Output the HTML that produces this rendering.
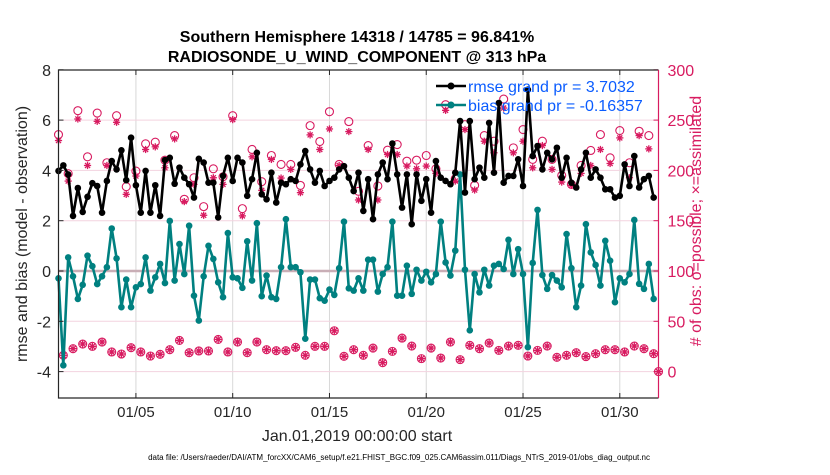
<!DOCTYPE html>
<html><head><meta charset="utf-8"><style>
body{margin:0;background:#fff;}
svg text{font-family:"Liberation Sans",Arial,sans-serif;}
</style></head><body>
<svg id="chart" width="830" height="470" viewBox="0 0 830 470" xmlns="http://www.w3.org/2000/svg">
<rect width="830" height="470" fill="#fff"/>
<g id="grid"></g>
<g id="marks"></g>
<g id="axes"></g>
<text x="357" y="42" text-anchor="middle" font-size="16" font-weight="bold">Southern Hemisphere 14318 / 14785 = 96.841%</text>
<text x="357" y="62" text-anchor="middle" font-size="16" font-weight="bold">RADIOSONDE_U_WIND_COMPONENT @ 313 hPa</text>
<text x="357" y="441" text-anchor="middle" font-size="16" fill="#262626">Jan.01,2019 00:00:00 start</text>
<text transform="translate(27,234) rotate(-90)" text-anchor="middle" font-size="16" fill="#262626">rmse and bias (model - observation)</text>
<text transform="translate(701,221) rotate(-90)" text-anchor="middle" font-size="16" fill="#d81b60"># of obs: o=possible; ×=assimilated</text>
<text x="399" y="460" text-anchor="middle" font-size="8" fill="#000">data file: /Users/raeder/DAI/ATM_forcXX/CAM6_setup/f.e21.FHIST_BGC.f09_025.CAM6assim.011/Diags_NTrS_2019-01/obs_diag_output.nc</text>
<g>
<g>
<line x1="436" y1="86" x2="466" y2="86" stroke="#000" stroke-width="2.5"/>
<circle cx="451" cy="86" r="3.5" fill="#000"/>
<text x="468" y="92" font-size="16" fill="#0a5cff">rmse grand pr = 3.7032</text>
</g>
<g>
<line x1="436" y1="105" x2="466" y2="105" stroke="#008080" stroke-width="2.5"/>
<circle cx="451" cy="105" r="3.5" fill="#008080"/>
<text x="468" y="111" font-size="16" fill="#0a5cff">bias grand pr = -0.16357</text>
</g>
</g>
</svg>
<script>
const rmse=[3.98,4.2,3.84,2.19,3.3,2.35,2.95,3.49,3.38,2.32,3.58,4.37,4.04,4.8,3.61,5.3,3.41,2.32,3.98,2.32,3.41,2.19,4.41,4.5,3.47,4.11,3.71,3.45,2.92,4.46,4.31,3.51,
3.51,2.13,3.78,4.5,3.58,4.5,4.31,2.99,3.65,4.7,3.05,2.85,3.91,2.72,3.51,3.45,3.65,3.58,4.24,4.77,4.04,3.51,3.98,3.38,3.58,3.71,4.04,4.17,3.71,3.18,
3.91,2.39,3.65,2.06,3.84,4.31,3.65,5.07,3.84,2.52,3.84,1.86,3.84,2.79,3.65,2.32,4.37,3.71,3.58,3.45,3.91,5.96,3.12,5.96,3.65,4.11,3.71,5.89,3.91,6.68,3.51,3.78,
3.78,4.44,3.38,7.21,4.57,4.97,4.04,4.7,4.44,4.9,3.71,4.5,3.51,3.32,4.04,4.7,3.71,4.04,3.71,3.25,3.25,2.92,2.99,4.24,3.38,4.57,3.32,3.65,3.78,2.92];
const bias=[-0.29,-3.75,0.54,-0.21,-1.11,-0.55,0.61,0.19,-0.52,-0.21,0.15,1.69,0.5,-1.44,-0.34,-1.44,-0.65,-0.52,0.54,-0.78,-0.25,0.28,-0.48,1.99,-0.38,1.07,-0.12,1.8,-0.98,-1.97,-0.21,1.0,
0.48,-0.45,-1.04,1.51,-0.25,-0.29,-0.67,1.18,-0.38,1.9,-1.0,-0.18,-1.04,-1.11,0.15,2.06,0.15,0.15,-0.05,-2.69,-0.34,-0.34,-1.08,-1.18,-0.74,-0.95,0.11,1.96,-0.69,-0.78,
-0.29,-0.78,0.45,0.45,-0.82,-0.12,0.15,1.96,-0.98,-0.98,0.21,-0.91,0.05,-0.38,-0.03,-0.45,-0.12,1.96,0.34,-0.18,0.81,3.84,0.05,-2.36,-0.12,-0.85,0.05,-0.58,0.21,0.28,0.08,1.24,
-0.12,0.87,-0.12,-3.03,0.32,2.43,-0.16,-0.71,-0.16,-0.38,-0.65,1.47,0.11,-1.44,-0.58,1.86,0.74,0.24,-0.58,1.2,0.41,-1.24,-0.29,-0.45,-0.12,2.03,-0.51,-0.71,0.28,-1.11];
const possible=[235.6,16.2,196.7,22.8,259.4,27.4,213.5,25.1,257,29.4,207.6,19.5,254.4,17.5,183.8,23.8,199.3,19.5,226.4,15.5,228,17.2,210.2,21.8,234.6,31,171.3,18.8,192.7,20.5,164,20.5,
201.6,32,193.7,19.5,254.4,29.4,162,18.8,220.8,29.4,188.8,21.8,214.8,20.8,205.9,20.8,205.9,24.1,185.1,16.2,244.5,25.1,228.7,25.1,258.4,40.6,205.9,15.2,248.5,21.8,179.2,16.2,
224.7,23.4,184.5,8.9,220.1,20.1,225.7,33.3,209.2,25.4,210.2,12.9,214.8,23.4,201.6,13.5,265.3,29.4,191.7,11.9,245.5,26.1,185.1,22.8,234.6,28.4,229,21.1,270.9,25.4,222.4,26.1,
240.6,15.5,210.9,21.1,229,25.4,210.9,14.2,195,16.2,186.1,18.8,204.9,14.9,219.8,17.8,235.6,21.8,212.5,21.8,239.6,19.5,207.6,25.4,238.9,22.8,234.6,17.8,0];
const assimilated=[229.7,16.2,189.4,22.8,251.1,27.4,204.9,25.1,248.8,29.4,204.9,19.5,247.8,17.5,176.2,23.8,194.4,19.5,220.8,15.5,223.4,17.2,202.6,21.8,231.3,31,169,18.8,186.1,20.5,155.4,20.5,
192.7,32,186.1,19.5,250.5,29.4,154.8,18.8,213.5,29.4,180.2,21.8,210.9,20.8,192.4,20.8,201,24.1,177.9,16.2,235.3,25.1,220.8,25.1,241.2,40.6,204.9,15.2,238.6,21.8,170.6,16.2,
220.8,23.4,170.6,8.9,215.8,20.1,215.8,33.3,204.3,25.4,201.6,12.9,204.3,23.4,197,13.5,259.7,29.4,189.4,11.9,240.6,26.1,180.5,22.8,229,28.4,217.5,21.1,262,25.4,217.5,26.1,
229,15.5,202.6,21.1,224.7,25.4,201,14.2,188.4,16.2,185.1,18.8,197,14.9,204.9,17.8,220.8,21.8,206.9,21.8,232.3,19.5,192.7,25.4,234.6,22.8,221.4,17.8,0];
const xTickDays=[5,10,15,20,25,30];
const xTickLabels=["01/05","01/10","01/15","01/20","01/25","01/30"];
const yLeftTicks=[8,6,4,2,0,-2,-4];
const yRightTicks=[300,250,200,150,100,50,0];

const NS="http://www.w3.org/2000/svg";
const PL=58.5,PR=658.5,PT=70,PB=398;
const DAY0=1,DAY1=32;
function xDay(d){return PL+(d-DAY0)/(DAY1-DAY0)*(PR-PL);}
function xIdx(i){return xDay(DAY0+i*0.25);}
function yL(v){return 271-v*25.15;}
function yR(v){return yL(v/25-4);}
function el(tag,attrs,parent){const e=document.createElementNS(NS,tag);for(const k in attrs)e.setAttribute(k,attrs[k]);parent.appendChild(e);return e;}
const grid=document.getElementById('grid'),marks=document.getElementById('marks'),axes=document.getElementById('axes');

xTickDays.forEach((d,k)=>{
  const x=xDay(d);
  const g=el('line',{x1:x,y1:PT,x2:x,y2:PB,stroke:'#d8d8d8','stroke-width':1},grid);
  
  
  const t=el('text',{x:x,y:417,'text-anchor':'middle','font-size':15,fill:'#262626'},axes);
  t.textContent=xTickLabels[k];
  
  
  el('line',{x1:x,y1:PB,x2:x,y2:PB-5,stroke:'#262626'},axes);
  el('line',{x1:x,y1:PT,x2:x,y2:PT+5,stroke:'#262626'},axes);
});
yRightTicks.forEach(v=>{
  const y=yR(v);
  if(v!==100&&v!==300){const g=el('line',{x1:PL,y1:y,x2:PR,y2:y,stroke:'#f3d3df','stroke-width':1},grid);
  
  }
  const t=el('text',{x:PR+9,y:y+6,'font-size':16,fill:'#d81b60'},axes);
  t.textContent=v;
  
  
  el('line',{x1:PR,y1:y,x2:PR-5,y2:y,stroke:'#d81b60'},axes);
});
const zl=el('line',{x1:PL,y1:yL(0),x2:PR,y2:yL(0),stroke:'#c9aeb6','stroke-width':2.5},grid);


yLeftTicks.forEach(v=>{
  const y=yL(v);
  const t=el('text',{x:51,y:y+6,'text-anchor':'end','font-size':16,fill:'#262626'},axes);
  t.textContent=v;
  
  
  el('line',{x1:PL,y1:y,x2:PL+5,y2:y,stroke:'#262626'},axes);
});
const box=el('path',{d:`M${PR},${PT}H${PL}V${PB}H${PR}`,fill:'none',stroke:'#262626','stroke-width':1.2},axes);


const rax=el('line',{x1:PR,y1:PT,x2:PR,y2:PB,stroke:'#d81b60','stroke-width':1.2},axes);



function star(x,y,parent){
  const r=3.6;const g=el('g',{stroke:'#d81b60','stroke-width':1.3},parent);
  el('line',{x1:x-r,y1:y,x2:x+r,y2:y},g);
  el('line',{x1:x,y1:y-r,x2:x,y2:y+r},g);
  el('line',{x1:x-r*0.7,y1:y-r*0.7,x2:x+r*0.7,y2:y+r*0.7},g);
  el('line',{x1:x-r*0.7,y1:y+r*0.7,x2:x+r*0.7,y2:y-r*0.7},g);
  return g;
}
possible.forEach((v,i)=>{
  const c=el('circle',{cx:xIdx(i),cy:yR(v),r:4,fill:'none',stroke:'#d81b60','stroke-width':1.1},marks);
  
  
});
assimilated.forEach((v,i)=>{
  const s=star(xIdx(i),yR(v),marks);
  
  
});
function series(vals,color,name){
  const pts=vals.map((v,i)=>xIdx(i).toFixed(1)+','+yL(v).toFixed(1)).join(' ');
  const pl=el('polyline',{points:pts,fill:'none',stroke:color,'stroke-width':2.6,'stroke-linejoin':'round'},marks);
  
  
  vals.forEach((v,i)=>{
    const c=el('circle',{cx:xIdx(i),cy:yL(v),r:3.3,fill:color},marks);
    
    
  });
}
series(bias,'#008080','bias');
series(rmse,'#000000','rmse');
</script>
</body></html>
